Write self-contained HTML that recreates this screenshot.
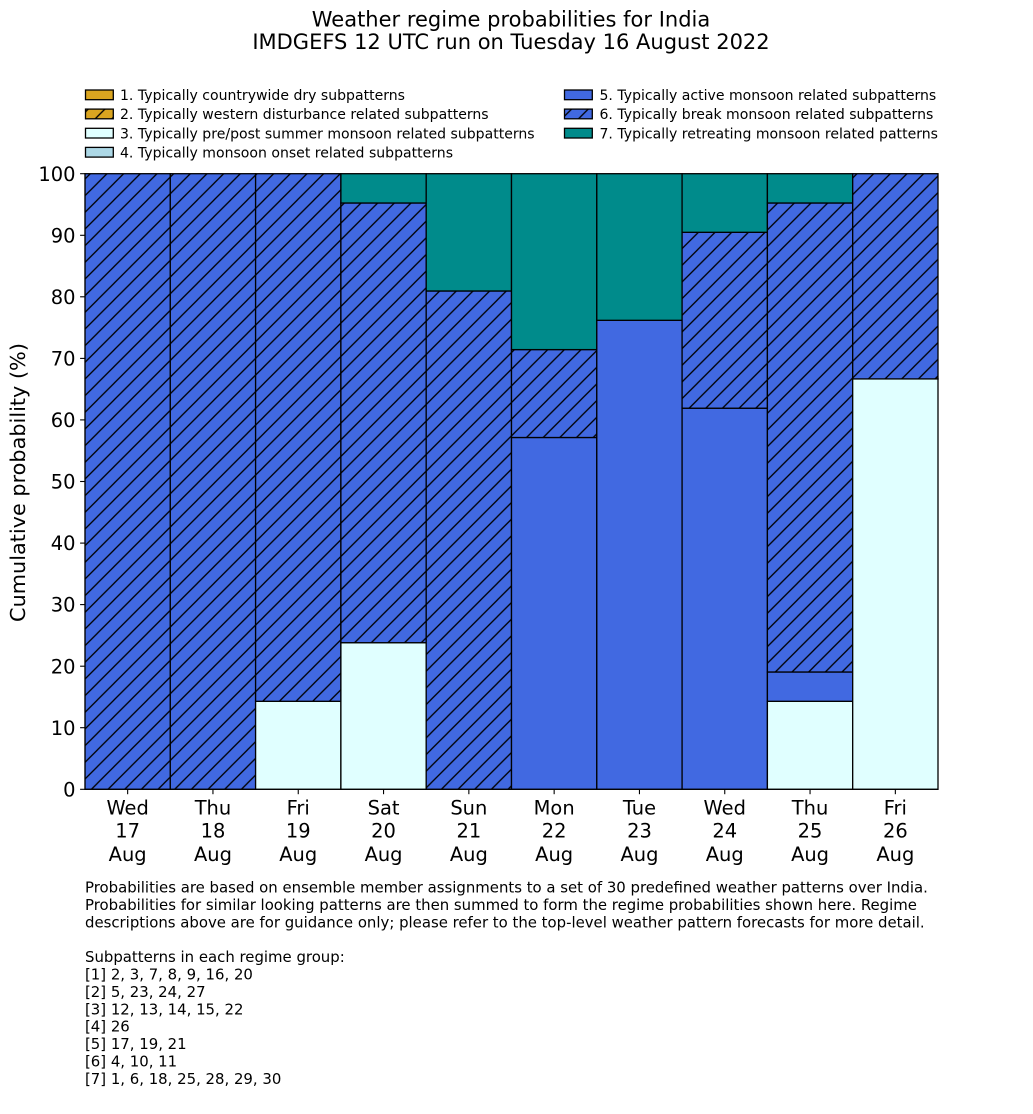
<!DOCTYPE html>
<html>
<head>
<meta charset="utf-8">
<style>
html,body{margin:0;padding:0;background:#fff;}
svg{display:block;}
text{font-family:"DejaVu Sans","Liberation Sans",sans-serif;fill:#000;}
</style>
</head>
<body>
<svg width="1033" height="1114" viewBox="0 0 1033 1114" xmlns="http://www.w3.org/2000/svg">
<defs>
<pattern id="h" patternUnits="userSpaceOnUse" x="14" y="0" width="16.6667" height="16.6667">
<path d="M-2,18.6667 L18.6667,-2 M-2,2 L2,-2 M14.6667,18.6667 L18.6667,14.6667" stroke="#000" stroke-width="1.3" fill="none"/>
</pattern>
</defs>
<rect width="1033" height="1114" fill="#fff"/>

<!-- Title -->
<text x="511" y="26.3" font-size="21" text-anchor="middle">Weather regime probabilities for India</text>
<text x="511" y="48.8" font-size="21" text-anchor="middle">IMDGEFS 12 UTC run on Tuesday 16 August 2022</text>

<!-- Legend -->
<g font-size="14.05" stroke-width="1.3">
<rect x="85.5" y="90" width="27.8" height="9.7" fill="#DAA520" stroke="#000"/>
<text x="120" y="100">1. Typically countrywide dry subpatterns</text>
<rect x="85.5" y="109.1" width="27.8" height="9.7" fill="#DAA520"/>
<rect x="85.5" y="109.1" width="27.8" height="9.7" fill="url(#h)" stroke="#000"/>
<text x="120" y="119.1">2. Typically western disturbance related subpatterns</text>
<rect x="85.5" y="128.3" width="27.8" height="9.7" fill="#E0FFFF" stroke="#000"/>
<text x="120" y="138.3">3. Typically pre/post summer monsoon related subpatterns</text>
<rect x="85.5" y="147.4" width="27.8" height="9.7" fill="#ADD8E6" stroke="#000"/>
<text x="120" y="157.4">4. Typically monsoon onset related subpatterns</text>

<rect x="564.5" y="90" width="27.8" height="9.7" fill="#4169E1" stroke="#000"/>
<text x="599.5" y="100">5. Typically active monsoon related subpatterns</text>
<rect x="564.5" y="109.1" width="27.8" height="9.7" fill="#4169E1"/>
<rect x="564.5" y="109.1" width="27.8" height="9.7" fill="url(#h)" stroke="#000"/>
<text x="599.5" y="119.1">6. Typically break monsoon related subpatterns</text>
<rect x="564.5" y="128.3" width="27.8" height="9.7" fill="#008B8B" stroke="#000"/>
<text x="599.5" y="138.3">7. Typically retreating monsoon related patterns</text>
</g>

<!-- Bars -->
<g stroke="#000" stroke-width="1.3">
<rect x="85" y="173.7" width="85.3" height="615.6" fill="#4169E1" stroke="none"/>
<rect x="85" y="173.7" width="85.3" height="615.6" fill="url(#h)"/>
<rect x="170.3" y="173.7" width="85.3" height="615.6" fill="#4169E1" stroke="none"/>
<rect x="170.3" y="173.7" width="85.3" height="615.6" fill="url(#h)"/>
<rect x="255.6" y="701.3" width="85.3" height="88" fill="#E0FFFF"/>
<rect x="255.6" y="173.7" width="85.3" height="527.6" fill="#4169E1" stroke="none"/>
<rect x="255.6" y="173.7" width="85.3" height="527.6" fill="url(#h)"/>
<rect x="340.9" y="642.7" width="85.3" height="146.6" fill="#E0FFFF"/>
<rect x="340.9" y="203.0" width="85.3" height="439.7" fill="#4169E1" stroke="none"/>
<rect x="340.9" y="203.0" width="85.3" height="439.7" fill="url(#h)"/>
<rect x="340.9" y="173.7" width="85.3" height="29.3" fill="#008B8B"/>
<rect x="426.2" y="291.0" width="85.3" height="498.3" fill="#4169E1" stroke="none"/>
<rect x="426.2" y="291.0" width="85.3" height="498.3" fill="url(#h)"/>
<rect x="426.2" y="173.7" width="85.3" height="117.3" fill="#008B8B"/>
<rect x="511.5" y="437.5" width="85.3" height="351.8" fill="#4169E1"/>
<rect x="511.5" y="349.6" width="85.3" height="87.9" fill="#4169E1" stroke="none"/>
<rect x="511.5" y="349.6" width="85.3" height="87.9" fill="url(#h)"/>
<rect x="511.5" y="173.7" width="85.3" height="175.9" fill="#008B8B"/>
<rect x="596.8" y="320.3" width="85.3" height="469.0" fill="#4169E1"/>
<rect x="596.8" y="173.7" width="85.3" height="146.6" fill="#008B8B"/>
<rect x="682.1" y="408.2" width="85.3" height="381.1" fill="#4169E1"/>
<rect x="682.1" y="232.3" width="85.3" height="175.9" fill="#4169E1" stroke="none"/>
<rect x="682.1" y="232.3" width="85.3" height="175.9" fill="url(#h)"/>
<rect x="682.1" y="173.7" width="85.3" height="58.6" fill="#008B8B"/>
<rect x="767.4" y="701.3" width="85.3" height="88" fill="#E0FFFF"/>
<rect x="767.4" y="672.0" width="85.3" height="29.3" fill="#4169E1"/>
<rect x="767.4" y="203.0" width="85.3" height="469.0" fill="#4169E1" stroke="none"/>
<rect x="767.4" y="203.0" width="85.3" height="469.0" fill="url(#h)"/>
<rect x="767.4" y="173.7" width="85.3" height="29.3" fill="#008B8B"/>
<rect x="852.7" y="378.9" width="85.3" height="410.4" fill="#E0FFFF"/>
<rect x="852.7" y="173.7" width="85.3" height="205.2" fill="#4169E1" stroke="none"/>
<rect x="852.7" y="173.7" width="85.3" height="205.2" fill="url(#h)"/>
</g>

<!-- Spines -->
<g stroke="#000" stroke-width="1.1" fill="none">
<line x1="85" y1="173.2" x2="85" y2="789.8"/>
<line x1="84.5" y1="789.3" x2="938.5" y2="789.3"/>
</g>

<!-- Y ticks -->
<g stroke="#000" stroke-width="1.1">
<line x1="80.1" y1="789.3" x2="85" y2="789.3"/>
<line x1="80.1" y1="727.7" x2="85" y2="727.7"/>
<line x1="80.1" y1="666.2" x2="85" y2="666.2"/>
<line x1="80.1" y1="604.6" x2="85" y2="604.6"/>
<line x1="80.1" y1="543.1" x2="85" y2="543.1"/>
<line x1="80.1" y1="481.5" x2="85" y2="481.5"/>
<line x1="80.1" y1="419.9" x2="85" y2="419.9"/>
<line x1="80.1" y1="358.4" x2="85" y2="358.4"/>
<line x1="80.1" y1="296.8" x2="85" y2="296.8"/>
<line x1="80.1" y1="235.3" x2="85" y2="235.3"/>
<line x1="80.1" y1="173.7" x2="85" y2="173.7"/>
</g>
<g font-size="19.44" text-anchor="end">
<text x="75.5" y="796.4">0</text>
<text x="75.5" y="734.8">10</text>
<text x="75.5" y="673.3">20</text>
<text x="75.5" y="611.7">30</text>
<text x="75.5" y="550.2">40</text>
<text x="75.5" y="488.6">50</text>
<text x="75.5" y="427.0">60</text>
<text x="75.5" y="365.5">70</text>
<text x="75.5" y="303.9">80</text>
<text x="75.5" y="242.4">90</text>
<text x="75.5" y="180.8">100</text>
</g>
<text transform="translate(25,482.5) rotate(-90)" font-size="20.8" text-anchor="middle">Cumulative probability (%)</text>

<!-- X ticks -->
<g stroke="#000" stroke-width="1.1">
<line x1="127.65" y1="789.3" x2="127.65" y2="794.2"/>
<line x1="212.95" y1="789.3" x2="212.95" y2="794.2"/>
<line x1="298.25" y1="789.3" x2="298.25" y2="794.2"/>
<line x1="383.55" y1="789.3" x2="383.55" y2="794.2"/>
<line x1="468.85" y1="789.3" x2="468.85" y2="794.2"/>
<line x1="554.15" y1="789.3" x2="554.15" y2="794.2"/>
<line x1="639.45" y1="789.3" x2="639.45" y2="794.2"/>
<line x1="724.75" y1="789.3" x2="724.75" y2="794.2"/>
<line x1="810.05" y1="789.3" x2="810.05" y2="794.2"/>
<line x1="895.35" y1="789.3" x2="895.35" y2="794.2"/>
</g>
<g font-size="19.44" text-anchor="middle">
<text x="127.65" y="814.3">Wed</text><text x="127.65" y="837.6">17</text><text x="127.65" y="860.9">Aug</text>
<text x="212.95" y="814.3">Thu</text><text x="212.95" y="837.6">18</text><text x="212.95" y="860.9">Aug</text>
<text x="298.25" y="814.3">Fri</text><text x="298.25" y="837.6">19</text><text x="298.25" y="860.9">Aug</text>
<text x="383.55" y="814.3">Sat</text><text x="383.55" y="837.6">20</text><text x="383.55" y="860.9">Aug</text>
<text x="468.85" y="814.3">Sun</text><text x="468.85" y="837.6">21</text><text x="468.85" y="860.9">Aug</text>
<text x="554.15" y="814.3">Mon</text><text x="554.15" y="837.6">22</text><text x="554.15" y="860.9">Aug</text>
<text x="639.45" y="814.3">Tue</text><text x="639.45" y="837.6">23</text><text x="639.45" y="860.9">Aug</text>
<text x="724.75" y="814.3">Wed</text><text x="724.75" y="837.6">24</text><text x="724.75" y="860.9">Aug</text>
<text x="810.05" y="814.3">Thu</text><text x="810.05" y="837.6">25</text><text x="810.05" y="860.9">Aug</text>
<text x="895.35" y="814.3">Fri</text><text x="895.35" y="837.6">26</text><text x="895.35" y="860.9">Aug</text>
</g>

<!-- Footnote -->
<g font-size="14.9">
<text x="85" y="892.5">Probabilities are based on ensemble member assignments to a set of 30 predefined weather patterns over India.</text>
<text x="85" y="909.9">Probabilities for similar looking patterns are then summed to form the regime probabilities shown here. Regime</text>
<text x="85" y="927.3">descriptions above are for guidance only; please refer to the top-level weather pattern forecasts for more detail.</text>
<text x="85" y="962.1">Subpatterns in each regime group:</text>
<text x="85" y="979.5">[1] 2, 3, 7, 8, 9, 16, 20</text>
<text x="85" y="996.9">[2] 5, 23, 24, 27</text>
<text x="85" y="1014.3">[3] 12, 13, 14, 15, 22</text>
<text x="85" y="1031.7">[4] 26</text>
<text x="85" y="1049.1">[5] 17, 19, 21</text>
<text x="85" y="1066.5">[6] 4, 10, 11</text>
<text x="85" y="1083.9">[7] 1, 6, 18, 25, 28, 29, 30</text>
</g>
</svg>
</body>
</html>
